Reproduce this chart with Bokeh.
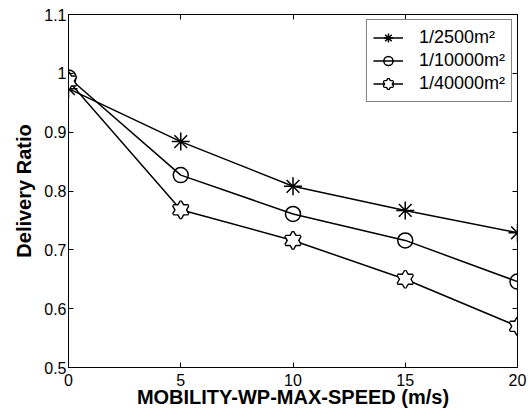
from bokeh.plotting import figure
from bokeh.models import (LinearAxis, FixedTicker, Legend, LegendItem, Range1d,
                          PrintfTickFormatter, CustomJSTickFormatter)
from bokeh.embed import file_html
from bokeh.resources import INLINE

# ---- data ----
speed = [0, 5, 10, 15, 20]
ratio_2500 = [0.974, 0.884, 0.808, 0.767, 0.729]
ratio_10000 = [0.993, 0.827, 0.761, 0.716, 0.646]
ratio_40000 = [0.987, 0.768, 0.716, 0.650, 0.570]
series_labels = ["1/2500m²", "1/10000m²", "1/40000m²"]
x_ticks = [0, 5, 10, 15, 20]
y_ticks = [0.5, 0.6, 0.7, 0.8, 0.9, 1.0, 1.1]
y_tick_labels = ["0.5", "0.6", "0.7", "0.8", "0.9", "1", "1.1"]
x_label = "MOBILITY-WP-MAX-SPEED (m/s)"
y_label = "Delivery Ratio"

FONT = "Liberation Sans"
LW = 1.5

p = figure(frame_width=449, frame_height=353,
           x_range=Range1d(0, 20), y_range=Range1d(0.5, 1.1),
           output_backend="svg", toolbar_location=None,
           min_border_left=68, min_border_right=14, min_border_top=14,
           min_border_bottom=47)
p.background_fill_color = "white"
p.border_fill_color = "white"
p.outline_line_color = "black"
p.outline_line_width = 1
p.xgrid.visible = False
p.ygrid.visible = False

def style_axis(ax, ticks, show_labels):
    ax.ticker = FixedTicker(ticks=ticks)
    ax.major_tick_in = 5
    ax.major_tick_out = 0
    ax.minor_tick_in = 0
    ax.minor_tick_out = 0
    ax.axis_line_color = "black"
    ax.axis_line_width = 1
    ax.major_tick_line_color = "black"
    ax.major_tick_line_width = 1
    ax.major_label_text_font = FONT
    ax.major_label_text_color = "black"
    if show_labels:
        ax.major_label_text_font_size = "16px"
    else:
        ax.formatter = CustomJSTickFormatter(code="return ''")
        ax.major_label_text_font_size = "0px"
        ax.major_label_standoff = 0

xa = p.xaxis[0]
style_axis(xa, x_ticks, True)
xa.major_label_standoff = 6
xa.axis_label = x_label
xa.axis_label_text_font = FONT
xa.axis_label_text_font_style = "bold"
xa.axis_label_text_font_size = "20px"
xa.axis_label_standoff = -3
xa.axis_label_text_color = "black"

ya = p.yaxis[0]
style_axis(ya, y_ticks, True)
ya.formatter = PrintfTickFormatter(format="%g")
ya.major_label_overrides = {t: l for t, l in zip(y_ticks, y_tick_labels)}
ya.major_label_standoff = 2
ya.axis_label = y_label
ya.axis_label_text_font = FONT
ya.axis_label_text_font_style = "bold"
ya.axis_label_text_font_size = "20px"
ya.axis_label_standoff = 6
ya.axis_label_text_color = "black"

top = LinearAxis()
style_axis(top, x_ticks, False)
p.add_layout(top, "above")
right = LinearAxis()
style_axis(right, y_ticks, False)
p.add_layout(right, "right")

items = []

# series 1: asterisk
l1 = p.line(speed, ratio_2500, line_color="black", line_width=LW)
m1 = p.scatter(speed, ratio_2500, marker="asterisk", size=18,
               line_color="black", line_width=LW)
items.append(LegendItem(label=series_labels[0], renderers=[l1, m1]))

# series 2: open circle
l2 = p.line(speed, ratio_10000, line_color="black", line_width=LW)
m2 = p.scatter(speed, ratio_10000, marker="circle", size=15,
               line_color="black", line_width=LW, fill_alpha=0)
items.append(LegendItem(label=series_labels[1], renderers=[l2, m2]))

# series 3: hexagram (outline of two triangles, inner lines covered)
HS = 15
l3 = p.line(speed, ratio_40000, line_color="black", line_width=LW)
t_a = p.scatter(speed, ratio_40000, marker="triangle", size=HS,
                line_color="black", line_width=2.8, fill_alpha=0)
t_b = p.scatter(speed, ratio_40000, marker="inverted_triangle", size=HS,
                line_color="black", line_width=2.8, fill_alpha=0)
f_a = p.scatter(speed, ratio_40000, marker="triangle", size=HS,
                line_alpha=0, fill_color="white")
f_b = p.scatter(speed, ratio_40000, marker="inverted_triangle", size=HS,
                line_alpha=0, fill_color="white")
items.append(LegendItem(label=series_labels[2], renderers=[l3, t_a, t_b, f_a, f_b]))

legend = Legend(items=items, location="top_right", margin=5, padding=6,
                spacing=0, glyph_width=30, glyph_height=23, label_height=23,
                label_standoff=16, label_text_font=FONT,
                label_text_font_size="18px", label_text_color="black",
                border_line_color="black", border_line_width=1,
                background_fill_color="white", background_fill_alpha=1)
p.add_layout(legend)

open("out.html", "w").write(file_html(p, INLINE))
